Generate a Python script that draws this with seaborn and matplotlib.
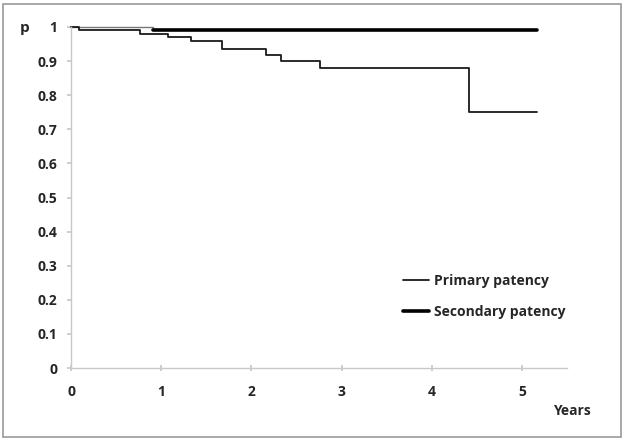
import matplotlib
matplotlib.use("Agg")
import matplotlib.pyplot as plt
import seaborn as sns
import pandas as pd
from matplotlib.patches import Rectangle

sns.set_theme(style="white")
plt.rcParams['font.family'] = ['Open Sans', 'DejaVu Sans']

# Primary patency (Kaplan-Meier steps)
primary_t = [0.0, 0.09, 0.76, 1.08, 1.33, 1.67, 2.16, 2.33, 2.76, 4.41, 5.17]
primary_p = [1.0, 0.99, 0.98, 0.97, 0.96, 0.935, 0.918, 0.90, 0.88, 0.752, 0.752]
# Secondary patency
secondary_t = [0.0, 0.91, 5.17]
secondary_p = [1.0, 0.99, 0.99]

xticks = [0, 1, 2, 3, 4, 5]
yticks = [0, 0.1, 0.2, 0.3, 0.4, 0.5, 0.6, 0.7, 0.8, 0.9, 1.0]
ytick_labels = ["0", "0.1", "0.2", "0.3", "0.4", "0.5", "0.6", "0.7", "0.8", "0.9", "1"]

df_p = pd.DataFrame({"t": primary_t, "p": primary_p})
df_s = pd.DataFrame({"t": secondary_t, "p": secondary_p})

fig = plt.figure(figsize=(6.25, 4.41), dpi=100)
ax = fig.add_axes([71/625, 1-368/441, (567-71)/625, (368-27)/441])

# initial flat segment of secondary patency drawn thin, rest thick
sns.lineplot(data=df_s.iloc[:2], x="t", y="p", ax=ax, drawstyle="steps-post",
             color="#777777", linewidth=1.0, clip_on=False)
sns.lineplot(data=df_s.iloc[1:], x="t", y="p", ax=ax, drawstyle="steps-post",
             color="black", linewidth=2.6, label="Secondary patency", clip_on=False)
sns.lineplot(data=df_p, x="t", y="p", ax=ax, drawstyle="steps-post",
             color="#1a1a1a", linewidth=1.3, label="Primary patency", clip_on=False)

ax.set_xlim(0, 5.5)
ax.set_ylim(0, 1.0)
ax.set_xticks(xticks)
ax.set_xticklabels([str(x) for x in xticks], fontsize=10, fontweight="bold")
ax.set_yticks(yticks)
ax.set_yticklabels(ytick_labels, fontsize=10, fontweight="bold")
ax.set_xlabel("")
ax.set_ylabel("")
for s in ["top", "right"]:
    ax.spines[s].set_visible(False)
for s in ["left", "bottom"]:
    ax.spines[s].set_color("#c8c8c8")
    ax.spines[s].set_linewidth(1.0)
ax.tick_params(axis="x", which="major", length=5, direction="inout", color="#c8c8c8", pad=10)
ax.tick_params(axis="y", which="major", length=3, direction="out", color="#c8c8c8", pad=7)
ax.tick_params(bottom=True, left=True)

handles, labels = ax.get_legend_handles_labels()
order = [labels.index("Primary patency"), labels.index("Secondary patency")]
leg = ax.legend([handles[i] for i in order], [labels[i] for i in order],
                loc="upper left", bbox_to_anchor=((390-71)/496, (368-261)/341),
                frameon=False, handlelength=1.9, handletextpad=0.35,
                labelspacing=1.25, prop={"size": 10, "weight": "bold"})

fig.text(25/625, 1-28/441, "p", fontsize=11, fontweight="bold", ha="center", va="center")
fig.text(572/625, 1-411/441, "Years", fontsize=10, fontweight="bold", ha="center", va="center")

fig.patches.append(Rectangle((3/625, 4/441), 618/625, 433/441, transform=fig.transFigure,
                             fill=False, edgecolor="#9a9a9a", linewidth=1.2))

fig.savefig("out.png", dpi=100)
